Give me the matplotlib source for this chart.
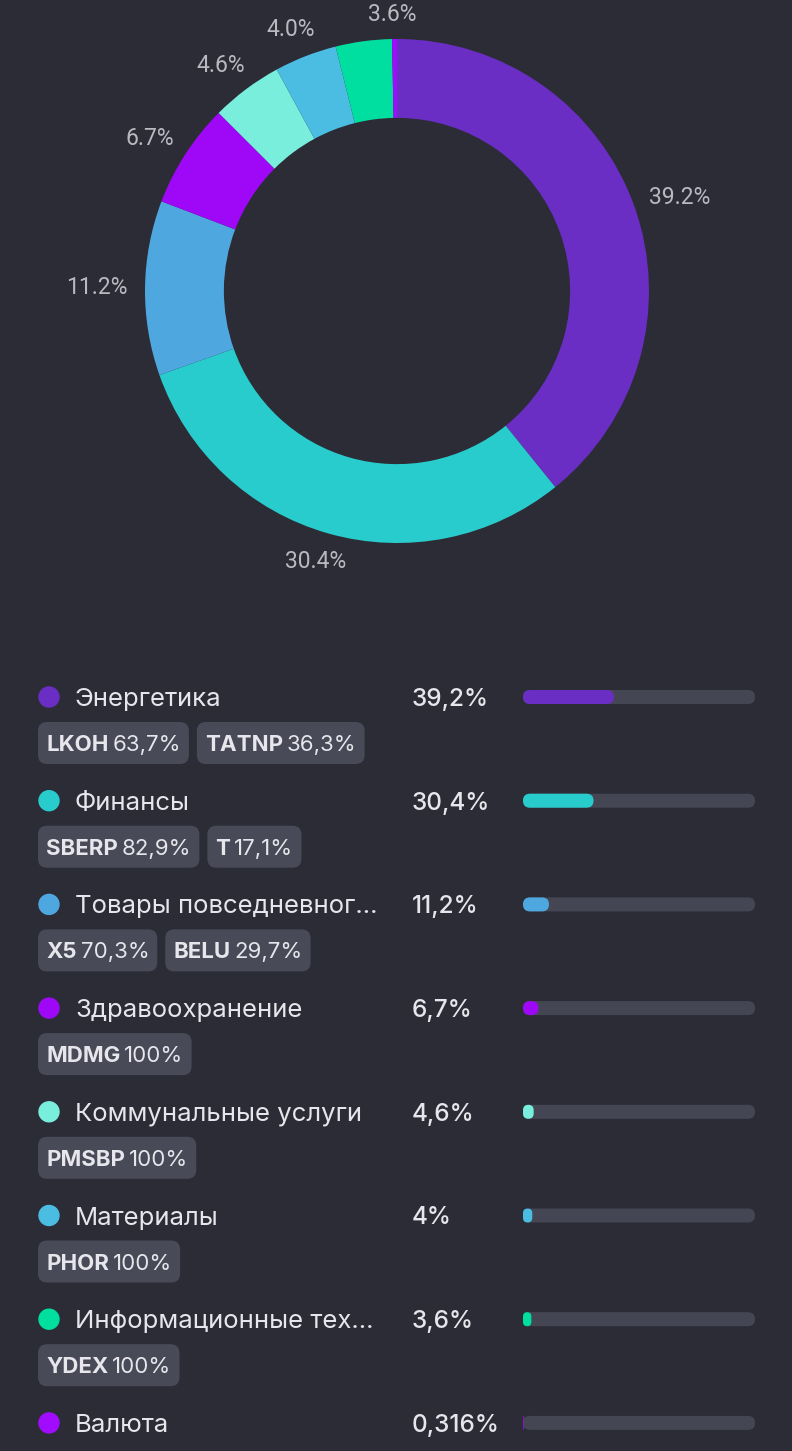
import matplotlib
matplotlib.use('Agg')
import math
import matplotlib.pyplot as plt
from matplotlib.patches import FancyBboxPatch, Circle

W, H = 792, 1451
BG = '#2c2c37'
TRACK = '#454654'
CHIP = '#494a57'
TEXT = '#e6e6ec'
PIE_TEXT = '#b9b9c2'

sectors = ['Энергетика', 'Финансы', 'Товары повседневног…', 'Здравоохранение',
           'Коммунальные услуги', 'Материалы', 'Информационные тех…', 'Валюта']
shares = [39.2, 30.4, 11.2, 6.7, 4.6, 4.0, 3.6, 0.316]
share_labels = ['39,2%', '30,4%', '11,2%', '6,7%', '4,6%', '4%', '3,6%', '0,316%']
colors = ['#6a2ec4', '#29cccc', '#4ea8df', '#9f08f7', '#79eedd', '#4bbde2', '#00df9f', '#a10cff']
tickers = [['LKOH', 'TATNP'], ['SBERP', 'T'], ['X5', 'BELU'], ['MDMG'],
           ['PMSBP'], ['PHOR'], ['YDEX'], []]
weights = [['63,7%', '36,3%'], ['82,9%', '17,1%'], ['70,3%', '29,7%'], ['100%'],
           ['100%'], ['100%'], ['100%'], []]

plt.rcParams['font.family'] = ['Inter', 'DejaVu Sans']

fig = plt.figure(figsize=(W / 100, H / 100), dpi=100, facecolor=BG)
renderer = fig.canvas.get_renderer()

# main axes in pixel coords (y down) for the legend part
ax = fig.add_axes([0, 0, 1, 1])
ax.set_xlim(0, W)
ax.set_ylim(H, 0)
ax.axis('off')

# donut
R_PX = 252
cx, cy = 397, 291
half = 300
axp = fig.add_axes([(cx - half) / W, (H - cy - half) / H, 2 * half / W, 2 * half / H])


def pie_label(pct):
    if pct < 1:
        return ''
    return '%.1f%%' % pct


wedges, texts, autotexts = axp.pie(
    shares, colors=colors, startangle=90, counterclock=False, radius=1,
    wedgeprops=dict(width=0.313, linewidth=0),
    autopct=pie_label, pctdistance=1.07,
    textprops=dict(color=PIE_TEXT, fontsize=16.5, family='Roboto'))
lim = half / R_PX
axp.set_xlim(-lim, lim)
axp.set_ylim(-lim, lim)
axp.set_aspect('equal')
axp.axis('off')

# push each label out so its box edge (not its centre) sits next to the ring
for wd, t in zip(wedges, autotexts):
    if not t.get_text():
        continue
    ang = math.radians((wd.theta1 + wd.theta2) / 2)
    bb = t.get_window_extent(renderer)
    x, y = t.get_position()
    x += math.cos(ang) * bb.width / 2 / R_PX
    y += math.sin(ang) * bb.height / 2 / R_PX
    t.set_position((x, y))

# the small 3.6% label is pushed aside so it does not hit the 4.0% one
x, y = autotexts[6].get_position()
autotexts[6].set_position((x + 34 / R_PX, y - 2 / R_PX))

# legend rows
ROW0, ROW_STEP = 697, 103.7
BAR_X, BAR_W, BAR_H = 523, 232, 14
for i, name in enumerate(sectors):
    y = ROW0 + ROW_STEP * i
    ax.add_patch(Circle((49, y), 10, color=colors[i], zorder=2))
    ax.text(75, y, name, fontsize=18.5, color=TEXT, va='center_baseline')
    ax.text(412, y, share_labels[i], fontsize=17.5, fontweight='medium',
            color=TEXT, va='center_baseline')

    ax.add_patch(FancyBboxPatch((BAR_X, y - BAR_H / 2), BAR_W, BAR_H,
                                boxstyle='round,pad=0,rounding_size=7',
                                color=TRACK, linewidth=0, zorder=1))
    w = BAR_W * shares[i] / 100
    ax.add_patch(FancyBboxPatch((BAR_X, y - BAR_H / 2), w, BAR_H,
                                boxstyle='round,pad=0,rounding_size=%f' % min(7, w / 2),
                                color=colors[i], linewidth=0, zorder=2))

    yc = y + 46
    x0 = 38
    for tk, wt in zip(tickers[i], weights[i]):
        t1 = ax.text(x0 + 8, yc, tk, fontsize=16, fontweight='bold', color=TEXT,
                     va='center_baseline')
        b1 = t1.get_window_extent(renderer)
        t2 = ax.text(x0 + 8 + b1.width + 4, yc, wt, fontsize=16, color=TEXT,
                     va='center_baseline')
        b2 = t2.get_window_extent(renderer)
        x1 = x0 + 8 + b1.width + 4 + b2.width + 8
        ax.add_patch(FancyBboxPatch((x0, yc - 21), x1 - x0, 42,
                                    boxstyle='round,pad=0,rounding_size=9',
                                    color=CHIP, linewidth=0, zorder=1))
        x0 = x1 + 8

fig.savefig('out.png', dpi=100, facecolor=BG)
